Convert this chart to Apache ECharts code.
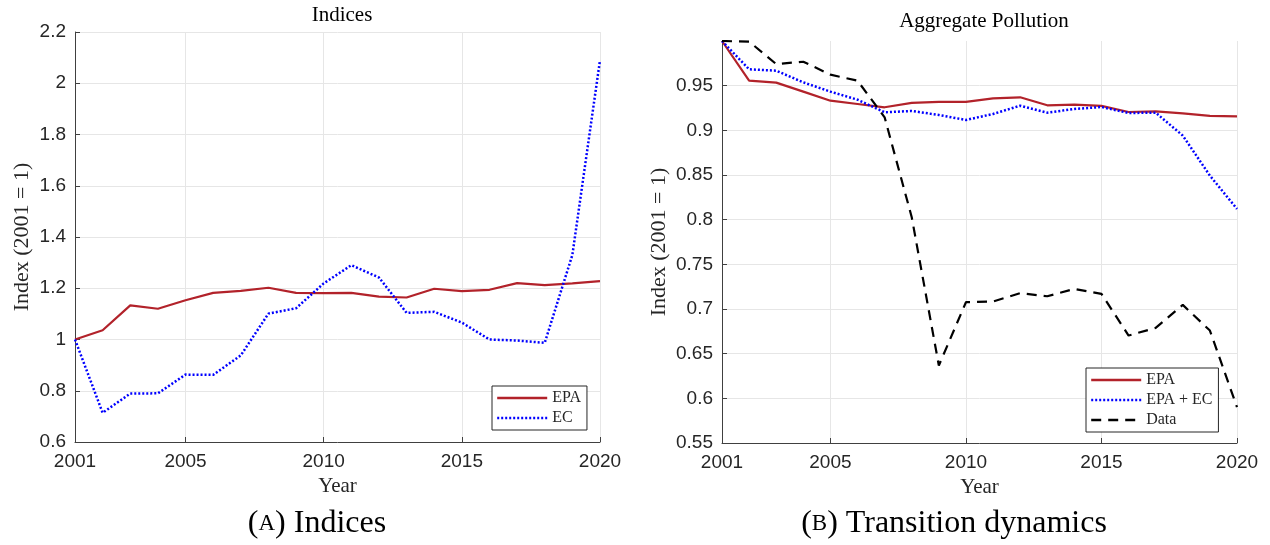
<!DOCTYPE html>
<html>
<head>
<meta charset="utf-8">
<script src="https://cdn.jsdelivr.net/npm/echarts@6/dist/echarts.min.js"></script>
<style>
html,body{margin:0;padding:0;background:#fff;}
#chart{width:1270px;height:545px;}
</style>
</head>
<body>
<div id="chart"></div>
<script>
const years = ['2001','2002','2003','2004','2005','2006','2007','2008','2009','2010',
               '2011','2012','2013','2014','2015','2016','2017','2018','2019','2020'];
const shownYears = ['2001','2005','2010','2015','2020'];

// Panel A: Indices
const indicesEPA = [1.000,1.036,1.133,1.120,1.153,1.182,1.190,1.202,1.182,1.181,
                    1.182,1.167,1.164,1.198,1.189,1.194,1.220,1.212,1.219,1.228];
const indicesEC  = [1.000,0.714,0.789,0.790,0.863,0.862,0.938,1.101,1.122,1.219,
                    1.290,1.242,1.104,1.108,1.066,1.000,0.996,0.987,1.330,2.090];

// Panel B: Aggregate Pollution
const pollEPA   = [1.000,0.9556,0.9534,0.9433,0.9332,0.9295,0.9258,0.9307,0.9318,0.9318,
                   0.9358,0.9370,0.9280,0.9288,0.9273,0.9205,0.9213,0.9190,0.9161,0.9157];
const pollEPAEC = [1.000,0.9683,0.9668,0.9537,0.9433,0.9343,0.9202,0.9217,0.9172,0.9116,
                   0.9183,0.9276,0.9198,0.9239,0.9261,0.9194,0.9198,0.8941,0.8493,0.8120];
const pollData  = [1.000,0.9993,0.9742,0.9768,0.9623,0.9556,0.9146,0.8027,0.6368,0.7076,
                   0.7084,0.7177,0.7143,0.7225,0.7169,0.6703,0.6789,0.7046,0.6759,0.5901];

const titleA = 'Indices';
const titleB = 'Aggregate Pollution';
const yName = 'Index (2001 = 1)';
const xName = 'Year';

const SERIF = 'Liberation Serif';
const SANS = 'Liberation Sans';
const RED = '#b2222a';
const AXIS = '#404040';
const GRIDC = '#e6e6e6';

const showTick = (idx, val) => shownYears.indexOf(String(val)) >= 0 || shownYears.indexOf(years[idx]) >= 0;

function xAxis(gi) {
  return {
    type: 'category', gridIndex: gi, data: years, boundaryGap: false,
    name: xName, nameLocation: 'middle', nameGap: 34,
    nameTextStyle: {fontFamily: SERIF, fontSize: 21, color: '#262626'},
    axisLine: {show: true, lineStyle: {color: AXIS, width: 1}},
    axisTick: {show: true, inside: true, length: 5, interval: showTick, lineStyle: {color: AXIS}},
    axisLabel: {interval: showTick, margin: 10, fontFamily: SANS, fontSize: 19, color: '#262626'},
    splitLine: {show: true, interval: showTick, lineStyle: {color: GRIDC, width: 1}}
  };
}
const fmt = v => String(parseFloat((+v).toFixed(2)));

function yAxis(gi, min, max, interval, gap, hideMax) {
  return {
    type: 'value', gridIndex: gi, min: min, max: max, interval: interval,
    name: yName, nameLocation: 'middle', nameGap: gap, nameRotate: 90,
    nameTextStyle: {fontFamily: SERIF, fontSize: 22, color: '#262626'},
    axisLine: {show: true, lineStyle: {color: AXIS, width: 1}},
    axisTick: {show: true, inside: true, length: 5, lineStyle: {color: AXIS}},
    axisLabel: {margin: 9, fontFamily: SANS, fontSize: 19, color: '#262626',
                showMaxLabel: !hideMax, formatter: fmt},
    splitLine: {show: true, showMaxLine: !hideMax, lineStyle: {color: GRIDC, width: 1}}
  };
}

function line(name, data, gi, color, type, width) {
  return {
    name: name, type: 'line', xAxisIndex: gi, yAxisIndex: gi, data: data,
    symbol: 'none', showSymbol: false, animation: false, smooth: false,
    lineStyle: {color: color, width: width, type: type, cap: 'butt'},
    itemStyle: {color: color}
  };
}

const legendBase = {
  orient: 'vertical', backgroundColor: '#fff', borderColor: '#262626', borderWidth: 1,
  borderRadius: 0, itemWidth: 50, itemHeight: 12, itemGap: 4,
  itemStyle: {opacity: 0},
  lineStyle: {width: 2.4},
  textStyle: {fontFamily: SERIF, fontSize: 16, color: '#262626'},
  selectedMode: false
};

const chart = echarts.init(document.getElementById('chart'), null, {renderer: 'canvas'});
chart.setOption({
  animation: false,
  backgroundColor: '#fff',
  title: [
    {text: titleA, left: 337, top: 0, textAlign: 'center',
     textStyle: {fontFamily: SERIF, fontSize: 21, fontWeight: 'normal', color: '#000'}},
    {text: titleB, left: 979, top: 6, textAlign: 'center',
     textStyle: {fontFamily: SERIF, fontSize: 21, fontWeight: 'normal', color: '#000'}}
  ],
  grid: [
    {left: 75, top: 32, width: 525, height: 410, containLabel: false},
    {left: 722, top: 41, width: 515, height: 402, containLabel: false}
  ],
  xAxis: [xAxis(0), xAxis(1)],
  yAxis: [yAxis(0, 0.6, 2.2, 0.2, 42, false), yAxis(1, 0.55, 1.0, 0.05, 52, true)],
  legend: [
    Object.assign({}, legendBase, {left: 492, top: 386, padding: [4, 6, 4, 4], data: ['EPA', 'EC']}),
    Object.assign({}, legendBase, {left: 1086, top: 368, padding: [4, 6, 4, 4], data: ['EPA', 'EPA + EC', 'Data']})
  ],
  series: [
    line('EPA', indicesEPA, 0, RED, 'solid', 2.2),
    line('EC', indicesEC, 0, '#0000ff', [2, 2], 2.5),
    line('EPA', pollEPA, 1, RED, 'solid', 2.2),
    line('EPA + EC', pollEPAEC, 1, '#0000ff', [2, 2], 2.5),
    line('Data', pollData, 1, '#000000', [10, 7], 2.2)
  ],
  graphic: [
    {type: 'text', x: 317, y: 524,
     style: {text: '({sc|A}) Indices', fontFamily: SERIF, fontSize: 32, fill: '#000',
             align: 'center', verticalAlign: 'middle',
             rich: {sc: {fontFamily: SERIF, fontSize: 23, fill: '#000'}}}},
    {type: 'text', x: 954, y: 524,
     style: {text: '({sc|B}) Transition dynamics', fontFamily: SERIF, fontSize: 32, fill: '#000',
             align: 'center', verticalAlign: 'middle',
             rich: {sc: {fontFamily: SERIF, fontSize: 23, fill: '#000'}}}}
  ]
});
</script>
</body>
</html>
